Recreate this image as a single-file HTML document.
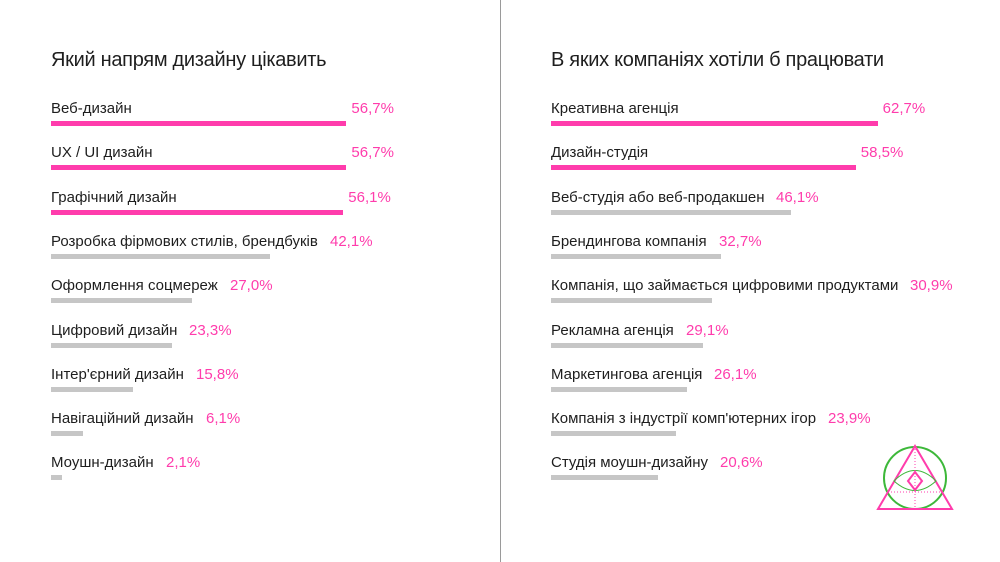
<!DOCTYPE html>
<html><head><meta charset="utf-8"><style>
body{margin:0;width:1000px;height:562px;background:#fff;position:relative;overflow:hidden;font-family:"Liberation Sans",sans-serif;color:#222}
.t{position:absolute;font-size:20px;top:49px;letter-spacing:-0.3px;color:#1e1e1e}
.l{position:absolute;font-size:15px;white-space:nowrap;color:#1e1e1e}
.p{position:absolute;font-size:15px;color:#ff3cac}
.b{position:absolute;height:5px;background:#c6c6c6}
.b.k{background:#ff3cac}
</style></head><body>
<div style="position:absolute;left:500px;top:0;width:1px;height:562px;background:#9a9a9a"></div>
<div class="t" style="left:51px">Який напрям дизайну цікавить</div>
<div class="t" style="left:551px">В яких компаніях хотіли б працювати</div>
<div id="c"></div>
<svg style="position:absolute;left:0;top:0" width="1000" height="562">
<circle cx="915" cy="478" r="31" fill="none" stroke="#3db83a" stroke-width="2"/>
<polygon points="915,446 878,509 952,509" fill="none" stroke="#ff3cac" stroke-width="2"/>
<path d="M894,481 Q915,460 936,481 Q915,500 894,481Z" fill="none" stroke="#3db83a" stroke-width="1"/>
<polygon points="915,472 922,481 915,490 908,481" fill="none" stroke="#ff3cac" stroke-width="2"/>
<line x1="915" y1="446" x2="915" y2="509" stroke="#ff3cac" stroke-dasharray="1,2"/>
<line x1="888" y1="492" x2="942" y2="492" stroke="#ff3cac" stroke-dasharray="1,2"/>
</svg>
<script>
var L=[["Веб-дизайн",56.7,1],["UX / UI дизайн",56.7,1],["Графічний дизайн",56.1,1],["Розробка фірмових стилів, брендбуків",42.1,0],["Оформлення соцмереж",27.0,0],["Цифровий дизайн",23.3,0],["Інтер'єрний дизайн",15.8,0],["Навігаційний дизайн",6.1,0],["Моушн-дизайн",2.1,0]];
var R=[["Креативна агенція",62.7,1],["Дизайн-студія",58.5,1],["Веб-студія або веб-продакшен",46.1,0],["Брендингова компанія",32.7,0],["Компанія, що займається цифровими продуктами",30.9,0],["Рекламна агенція",29.1,0],["Маркетингова агенція",26.1,0],["Компанія з індустрії комп'ютерних ігор",23.9,0],["Студія моушн-дизайну",20.6,0]];
var c=document.getElementById("c");
function f(a,x0){a.forEach(function(r,i){var y=100+i*44.3;
var l=document.createElement("div");l.className="l";l.style.left=x0+"px";l.style.top=y+"px";l.textContent=r[0];c.appendChild(l);
var w=Math.max(r[1]*5.21,10);
var px=r[2]?x0+w+5:x0+l.offsetWidth+12;
var p=document.createElement("div");p.className="p";p.style.left=px+"px";p.style.top=y+"px";p.textContent=r[1].toFixed(1).replace(".",",")+"%";c.appendChild(p);
var b=document.createElement("div");b.className="b"+(r[2]?" k":"");b.style.left=x0+"px";b.style.top=(y+21)+"px";b.style.width=w+"px";c.appendChild(b);});}
f(L,51);f(R,551);
</script>
</body></html>
